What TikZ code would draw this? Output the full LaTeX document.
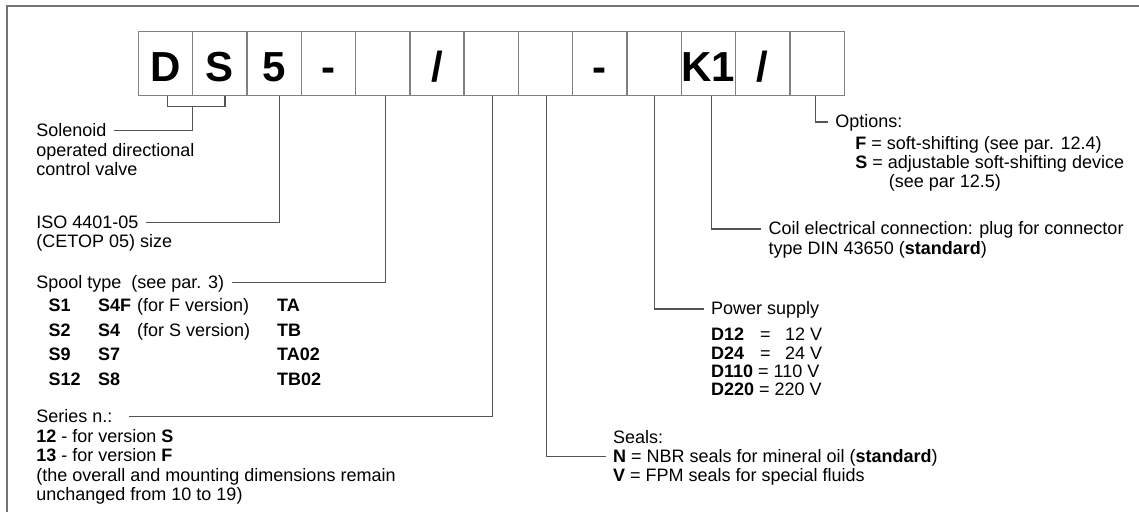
\documentclass[tikz,border=0pt]{standalone}
\usepackage{fontspec}
\setmainfont{Liberation Sans}
\usepackage{tikz}
\definecolor{linegray}{gray}{0.33}
\definecolor{boxgray}{gray}{0.5}
\definecolor{framegray}{gray}{0.45}
\newcommand{\txtrows}[1]{\begin{tabular}[t]{@{}l@{}}#1\end{tabular}}

\begin{document}
\begin{tikzpicture}[x=0.5pt,y=-0.5pt,
			box/.style={draw=boxgray, line width=0.7pt, minimum width=27.15pt, minimum height=32pt, inner sep=0pt, text height=18pt, text depth=0pt, font=\fontsize{21}{21}\selectfont\bfseries},
			lbl/.style={anchor=west, inner xsep=3.5pt, inner ysep=0pt, text height=6pt, text depth=0pt, font=\fontsize{9}{9.65}\selectfont},
			body/.style={anchor=base west, inner sep=0pt, font=\fontsize{9}{9.65}\selectfont},
			wire/.style={draw=linegray, line width=0.6pt},
			border/.style={draw=framegray, line width=1pt}
			]
			\useasboundingbox (0,0) rectangle (1139,512);
			\draw[border] (1160,6) -| (7.3,530);
			\node[box] (b1) at (165.45,63.7) {D};
			\node[box] (b2) at (219.75,63.7) {S};
			\node[box] (b3) at (274.05,63.7) {5};
			\node[box] (b4) at (328.35,63.7) {-};
			\node[box] (b5) at (382.65,63.7) {};
			\node[box] (b6) at (436.95,63.7) {/};
			\node[box] (b7) at (491.25,63.7) {};
			\node[box] (b8) at (545.55,63.7) {};
			\node[box] (b9) at (599.85,63.7) {-};
			\node[box] (b10) at (654.15,63.7) {};
			\node[box] (b11) at (708.45,63.7) {K1};
			\node[box] (b12) at (762.75,63.7) {/};
			\node[box] (b13) at (817.05,63.7) {};
			%%%%%%%%%%%%%%%
			\node[lbl] (sol) at (29,130.7) {Solenoid};
			\node[body] (solbody) at (36,156.3) {\txtrows{operated directional\\control valve}};
			\node[lbl] (iso) at (29,222.3) {ISO 4401-05};
			\node[body] (isobody) at (36,247.7) {(CETOP 05) size};
			\node[lbl] (spool) at (29,282.3) {Spool type\ \ (see par. 3)};
			\node[body, font=\fontsize{9}{12.4}\selectfont] (spooltab) at (48.3,311.3) {\begin{tabular}[t]{@{}p{24.7pt}@{}p{19.5pt}@{}p{70pt}@{}l@{}}
					\textbf{S1} & \textbf{S4F} & (for F version) & \textbf{TA}\\
					\textbf{S2} & \textbf{S4} & (for S version) & \textbf{TB}\\
					\textbf{S9} & \textbf{S7} & & \textbf{TA02}\\
					\textbf{S12} & \textbf{S8} & & \textbf{TB02}
				\end{tabular}};
			\node[lbl] (series) at (29,416.7) {Series n.:\hspace*{4.5pt}};
			\node[body] (seriesbody) at (36,442.7) {\txtrows{\textbf{12} - for version \textbf{S}\\\textbf{13} - for version \textbf{F}\\(the overall and mounting dimensions remain\\unchanged from 10 to 19)}};
			%%%%%%%%%%%%%%%
			\node[body] (seals) at (612.7,443.7) {Seals:};
			\node[lbl] (sealn) at (605.7,456.7) {\textbf{N} = NBR seals for mineral oil (\textbf{standard})};
			\node[body] (sealv) at (612.7,481) {\textbf{V} = FPM seals for special fluids};
			\node[lbl] (power) at (703.7,309) {Power supply};
			\node[body, font=\fontsize{9}{9.15}\selectfont] (volts) at (710.7,341) {\txtrows{\textbf{D12}\hspace{8pt}=\hspace{7.2pt}12 V\\\textbf{D24}\hspace{8pt}=\hspace{7.2pt}24 V\\\textbf{D110} = 110 V\\\textbf{D220} = 220 V}};
			\node[lbl] (coil) at (761.3,229) {Coil electrical connection: plug for connector};
			\node[body] (coilbody) at (768.3,254.5) {type DIN 43650 (\textbf{standard})};
			\node[lbl] (opt) at (828,122) {Options:};
			\node[body] (optbody) at (855,149.3) {\txtrows{\textbf{F} = soft-shifting (see par. 12.4)\\\textbf{S} = adjustable soft-shifting device\\\hspace*{16.7pt}(see par 12.5)}};
			%%%%%%%%%%%%%%%
			\coordinate (ds) at (192.7,106.7);
			\draw[wire] ([xshift=0.9pt]b1.south) |- (ds) -| ([xshift=2.6pt]b2.south);
			\draw[wire] (ds) |- (sol.east);
			\draw[wire] ([xshift=2.6pt]b3.south) |- (iso.east);
			\draw[wire] ([xshift=1.6pt]b5.south) |- (spool.east);
			\draw[wire] ([xshift=0.6pt]b7.south) |- (series.east);
			\draw[wire] ([xshift=0.5pt]b8.south) |- (sealn.west);
			\draw[wire] (b10.south) |- (power.west);
			\draw[wire] ([xshift=1.6pt]b11.south) |- (coil.west);
			\draw[wire] ([xshift=-0.6pt]b13.south) |- (opt.west);
		\end{tikzpicture}
\end{document}
